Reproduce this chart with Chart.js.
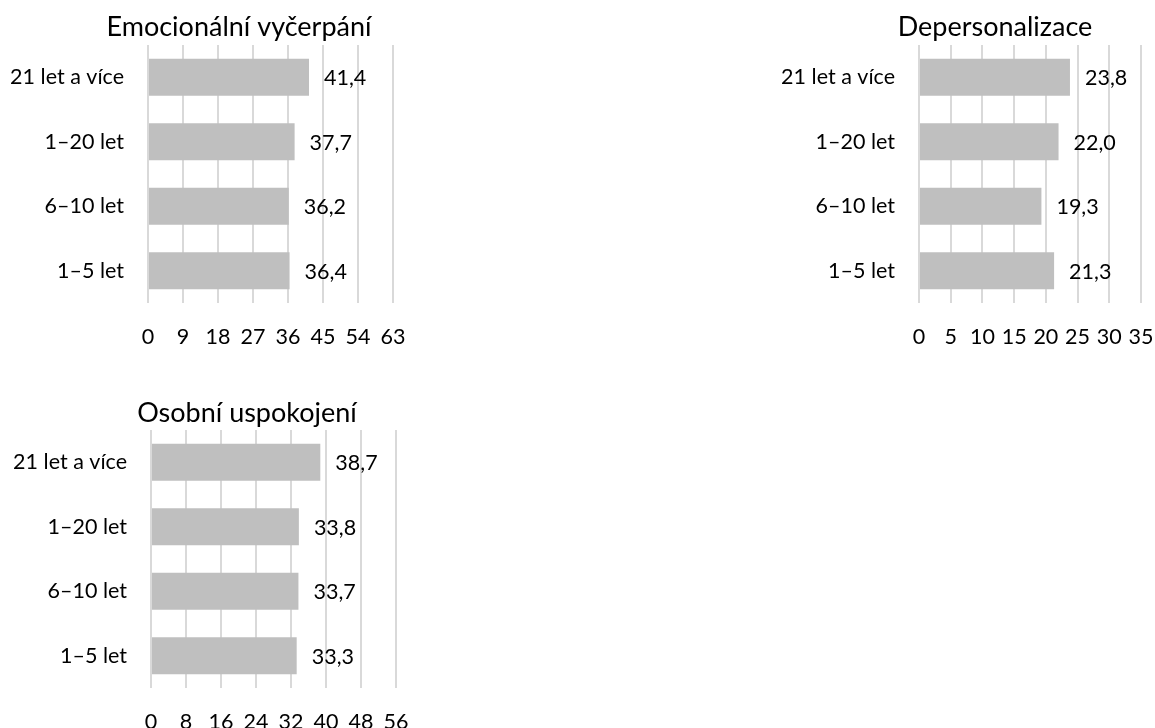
<!DOCTYPE html>
<html>
<head>
<meta charset="utf-8">
<title>Syndrom vyhoření podle délky praxe</title>
<script src="https://cdn.jsdelivr.net/npm/chart.js@4.4.1/dist/chart.umd.min.js"></script>
<style>
  html, body { margin: 0; padding: 0; background: #fff; width: 1155px; height: 728px; overflow: hidden; position: relative; }
  canvas { position: absolute; }
</style>
</head>
<body>
<canvas id="c1"></canvas>
<canvas id="c2"></canvas>
<canvas id="c3"></canvas>
<script>
// Délka praxe (shora dolů)
const categories = ["21 let a více", "1–20 let", "6–10 let", "1–5 let"];

// Průměrné skóre v jednotlivých subškálách
const emocionalniVycerpani = [41.4, 37.7, 36.2, 36.4];
const depersonalizace = [23.8, 22.0, 19.3, 21.3];
const osobniUspokojeni = [38.7, 33.8, 33.7, 33.3];

// Rozsahy os: [max, krok]
const axisEV = [63, 9];
const axisDP = [35, 5];
const axisOU = [56, 8];

const FONT = "Lato, 'Open Sans', sans-serif";
const TEXT_SIZE = 21.5;
const TITLE_SIZE = 27;
const BAR_COLOR = "#bfbfbf";
const GRID_COLOR = "#d9d9d9";

// Popisky hodnot za koncem sloupce (desetinná čárka)
const valueLabels = {
  id: "valueLabels",
  afterDatasetsDraw(chart) {
    const ctx = chart.ctx;
    const ds = chart.data.datasets[0];
    const meta = chart.getDatasetMeta(0);
    ctx.save();
    ctx.font = TEXT_SIZE + "px " + FONT;
    ctx.fillStyle = "#000";
    ctx.textAlign = "left";
    ctx.textBaseline = "middle";
    meta.data.forEach((bar, i) => {
      const txt = ds.data[i].toFixed(1).replace(".", ",");
      ctx.fillText(txt, bar.x + 15, bar.y + 1);
    });
    ctx.restore();
  }
};

// Prázdná pravá osa drží volné místo vpravo od grafu, takže nadpis
// (centrovaný na celou šířku plátna) sedí nad grafem i popisky osy y.
function makeChart(id, box, title, values, axis) {
  const cv = document.getElementById(id);
  cv.width = box.w;
  cv.height = box.h;
  cv.style.left = box.x + "px";
  cv.style.top = box.y + "px";
  return new Chart(cv, {
    type: "bar",
    data: {
      labels: categories,
      datasets: [{
        data: values,
        backgroundColor: BAR_COLOR,
        borderWidth: 0,
        categoryPercentage: 1,
        barPercentage: 0.57
      }]
    },
    options: {
      indexAxis: "y",
      responsive: false,
      animation: false,
      devicePixelRatio: 1,
      layout: { padding: 0 },
      plugins: {
        legend: { display: false },
        tooltip: { enabled: false },
        title: {
          display: true,
          text: title,
          color: "#000",
          font: { family: FONT, size: TITLE_SIZE, weight: "normal", lineHeight: 1.2 },
          padding: { top: box.titleTop, bottom: box.titleBottom }
        }
      },
      scales: {
        x: {
          min: 0,
          max: axis[0],
          afterFit(s) { s.height = box.xAxisH; },
          ticks: {
            stepSize: axis[1],
            color: "#000",
            padding: 21,
            maxRotation: 0,
            autoSkip: false,
            font: { family: FONT, size: TEXT_SIZE }
          },
          grid: { color: GRID_COLOR, lineWidth: 2, drawTicks: false },
          border: { display: false }
        },
        y: {
          afterFit(s) { s.width = box.yAxisW; },
          ticks: {
            color: "#000",
            padding: 24,
            font: { family: FONT, size: TEXT_SIZE }
          },
          grid: { display: false, drawTicks: false },
          border: { display: false }
        },
        yRight: {
          type: "category",
          position: "right",
          afterFit(s) { s.width = box.rightW; },
          ticks: { display: false },
          grid: { display: false, drawTicks: false },
          border: { display: false }
        }
      }
    },
    plugins: [valueLabels]
  });
}

makeChart("c1",
  { x: 0, y: 0, w: 478, h: 353, yAxisW: 148, rightW: 85, xAxisH: 50, titleTop: 11, titleBottom: 1.6 },
  "Emocionální vyčerpání", emocionalniVycerpani, axisEV);

makeChart("c2",
  { x: 770, y: 0, w: 450, h: 353, yAxisW: 149, rightW: 79, xAxisH: 50, titleTop: 11, titleBottom: 1.6 },
  "Depersonalizace", depersonalizace, axisDP);

makeChart("c3",
  { x: 0, y: 360, w: 494, h: 368, yAxisW: 151, rightW: 98, xAxisH: 40, titleTop: 37, titleBottom: 0.6 },
  "Osobní uspokojení", osobniUspokojeni, axisOU);
</script>
</body>
</html>
